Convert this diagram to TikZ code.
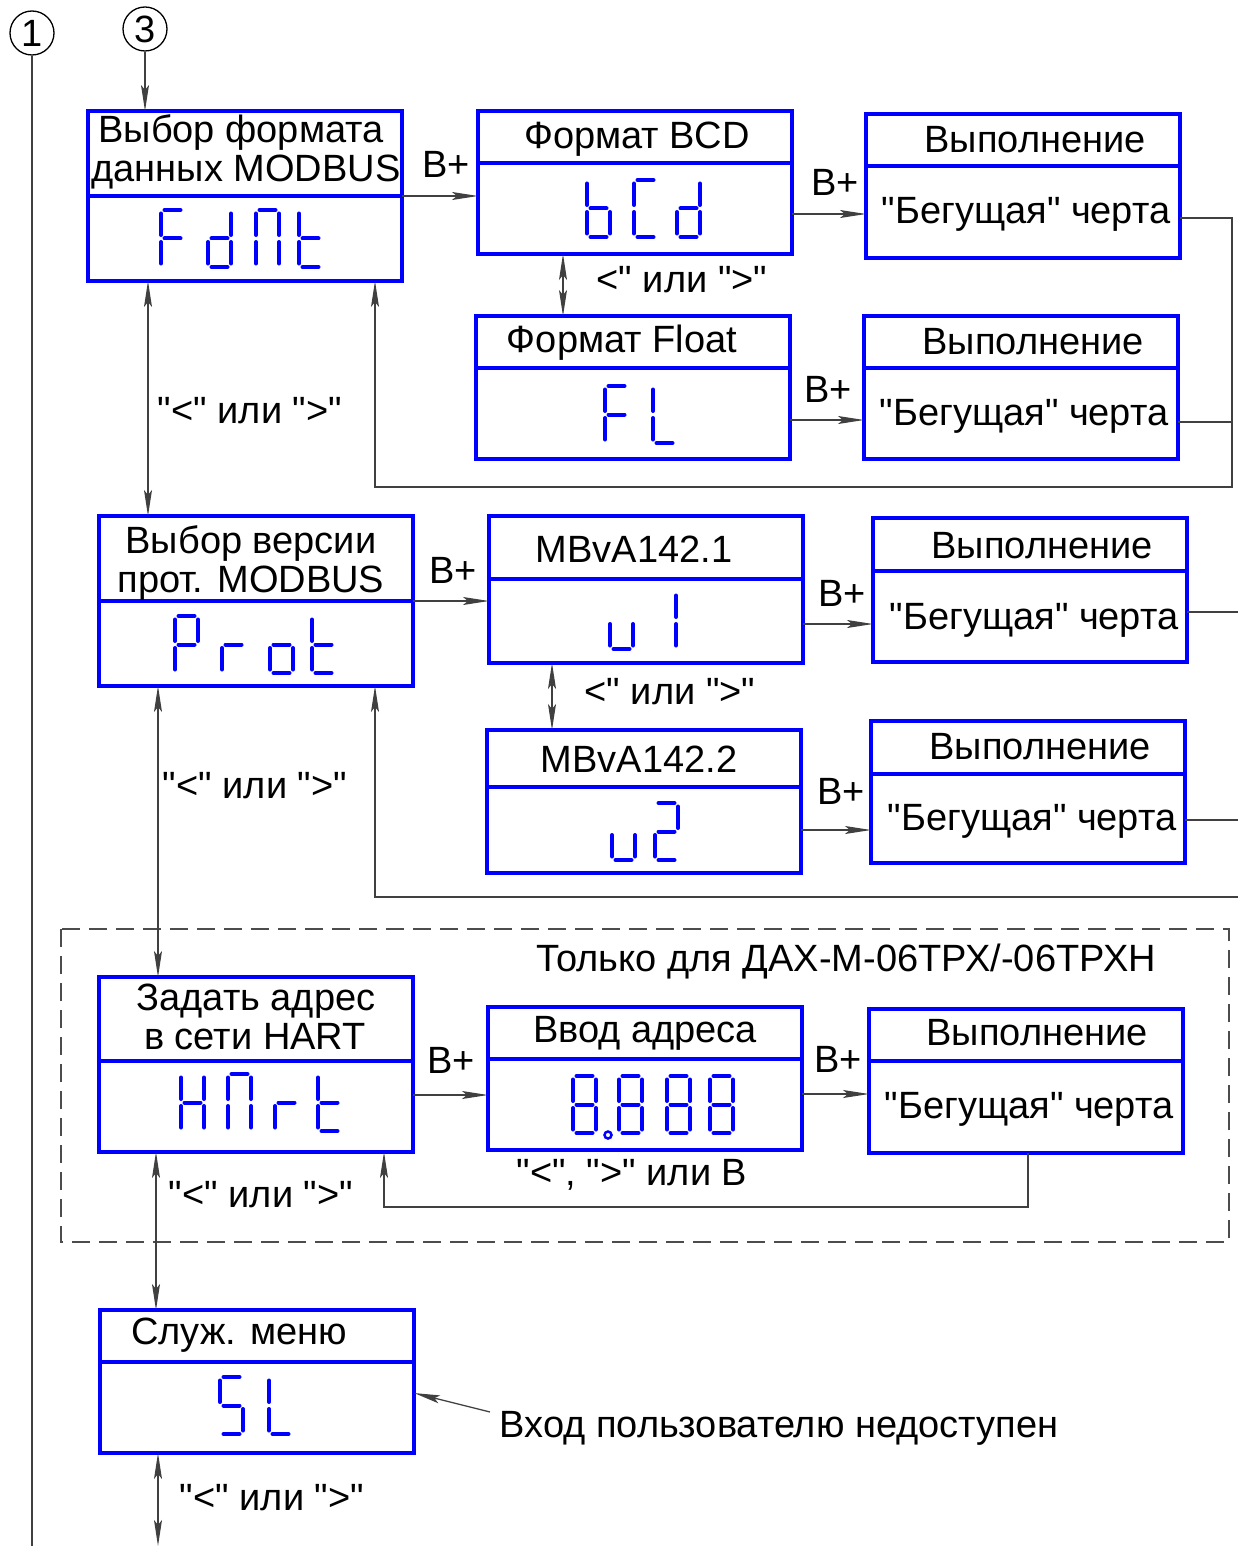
\documentclass[tikz,border=0pt]{standalone}
\usepackage{fontspec}
\setmainfont{Liberation Sans}
\newfontfamily\labelfont{Liberation Sans}
\usetikzlibrary{positioning, arrows.meta}
\definecolor{lcdblue}{RGB}{0,0,255}
\tikzset{
    menubox/.style={draw=lcdblue, line width=3.2pt, rectangle, inner sep=0pt, outer sep=0pt, minimum width=314pt},
    lcdseg/.style={lcdblue, line width=4pt, line cap=round},
    txt/.style={font=\labelfont\fontsize{38}{40}\selectfont, anchor=base, inner sep=0pt},
    conn/.style={black!75, line width=1.3pt},
    flow/.style={conn, -{Stealth[length=26pt, width=8pt, inset=5pt]}},
    dblarrow/.style={conn, {Stealth[length=26pt, width=8pt, inset=5pt]}-{Stealth[length=26pt, width=8pt, inset=5pt]}},
    zone/.style={draw=black!70, line width=1.2pt, dash pattern=on 18pt off 9pt},
    refmark/.style={circle, draw, line width=1.3pt, minimum size=44pt, inner sep=0pt, font=\labelfont\fontsize{38}{40}\selectfont}
}
% one seven-segment digit: top-left corner, list of lit segments
\newcommand{\lcddigit}[3]{%
  \begin{scope}[shift={(#1,#2)}]
    \coordinate (a1) at (3.5,0);    \coordinate (a2) at (19.5,0);
    \coordinate (b1) at (23,3.5);   \coordinate (b2) at (23,25);
    \coordinate (c1) at (23,32);    \coordinate (c2) at (23,53.5);
    \coordinate (d1) at (3.5,57);   \coordinate (d2) at (19.5,57);
    \coordinate (e1) at (0,32);     \coordinate (e2) at (0,53.5);
    \coordinate (f1) at (0,3.5);    \coordinate (f2) at (0,25);
    \coordinate (g1) at (3.5,28.5); \coordinate (g2) at (19.5,28.5);
    \foreach \s in {#3} \draw[lcdseg] (\s1) -- (\s2);
  \end{scope}}

\begin{document}
\begin{tikzpicture}[x=1pt, y=-1pt]
\useasboundingbox (0,0) rectangle (1238,1546);

% entry marks
\node[refmark] (mark1) at (32,33) {1};
\node[refmark] (mark3) at (145,29) {3};

% data format of MODBUS
\node[menubox, minimum height=85pt, anchor=north west] (fdatT) at (88,111) {};
\node[menubox, minimum height=85pt, below=0pt of fdatT] (fdatD) {};
\node[txt] (fdatL1) at (241,143) {Выбор формата};
\node[txt] (fdatL2) at (246,182) {данных MODBUS};
\lcddigit{161}{210}{a,e,f,g}
\lcddigit{208}{210}{b,c,d,e,g}
\lcddigit{256}{210}{a,b,c,e,f}
\lcddigit{299}{210}{d,e,f,g}

\node[menubox, minimum height=52pt, anchor=north west] (bcdT) at (478,111) {};
\node[menubox, minimum height=91pt, below=0pt of bcdT] (bcdD) {};
\node[txt] (bcdL) at (637,149) {Формат BCD};
\lcddigit{587}{180}{c,d,e,f,g}
\lcddigit{634}{180}{a,d,e,f}
\lcddigit{677}{180}{b,c,d,e,g}

\node[menubox, minimum height=52pt, anchor=north west] (fltT) at (476,316) {};
\node[menubox, minimum height=91pt, below=0pt of fltT] (fltD) {};
\node[txt] (fltL) at (622,352) {Формат Float};
\lcddigit{605}{386}{a,e,f,g}
\lcddigit{653}{386}{d,e,f}

\node[menubox, minimum height=52pt, anchor=north west] (runaT) at (866,114) {};
\node[menubox, minimum height=92pt, below=0pt of runaT] (runaD) {};
\node[txt] (runaL) at (1035,153) {Выполнение};
\node[txt] (runaB) at (1026,224) {"Бегущая" черта};

\node[menubox, minimum height=52pt, anchor=north west] (runbT) at (864,316) {};
\node[menubox, minimum height=91pt, below=0pt of runbT] (runbD) {};
\node[txt] (runbL) at (1033,354) {Выполнение};
\node[txt] (runbB) at (1024,425) {"Бегущая" черта};

\draw[flow] (fdatT.south east) -- (bcdD.west |- fdatT.south east);
\node[txt] (bplusA) at (446,178) {В+};
\draw[flow] (bcdD.east |- 0,214) -- (runaD.west |- 0,214);
\node[txt] (bplusB) at (835,196) {В+};
\draw[flow] (fltD.east |- 0,420) -- (runbD.west |- 0,420);
\node[txt] (bplusC) at (828,402) {В+};
\draw[dblarrow] (bcdD.south -| 563,0) -- (fltT.north -| 563,0);
\node[txt] (chooseA) at (682,292) {<" или ">"};

\coordinate (fbA) at (1232,487);
\draw[flow] (runaD.east |- 0,218) -| (fbA) -| (fdatD.south -| 375,0);
\draw[conn] (runbD.east |- 0,422) -- (fbA |- 0,422);

% protocol version
\node[menubox, minimum height=85pt, anchor=north west] (protT) at (99,516) {};
\node[menubox, minimum height=85pt, below=0pt of protT] (protD) {};
\node[txt] (protL1) at (251,553) {Выбор версии};
\node[txt] (protL2) at (251,592) {прот. MODBUS};
\lcddigit{175}{616}{a,b,e,f,g}
\lcddigit{222}{616}{e,g}
\lcddigit{270}{616}{c,d,e,g}
\lcddigit{312}{616}{d,e,f,g}

\draw[dblarrow] (fdatD.south -| 148,0) -- (protT.north -| 148,0);
\node[txt] (chooseB) at (250,423) {"<" или ">"};

\node[menubox, minimum height=63pt, anchor=north west] (veraT) at (489,516) {};
\node[menubox, minimum height=84pt, below=0pt of veraT] (veraD) {};
\node[txt] (veraL) at (634,562) {MBvA142.1};
\lcddigit{610}{592}{c,d,e}
\lcddigit{653}{592}{b,c}

\node[menubox, minimum height=57pt, anchor=north west] (verbT) at (487,730) {};
\node[menubox, minimum height=86pt, below=0pt of verbT] (verbD) {};
\node[txt] (verbL) at (639,772) {MBvA142.2};
\lcddigit{612}{803}{c,d,e}
\lcddigit{655}{803}{a,b,d,e,g}

\node[menubox, minimum height=53pt, anchor=north west] (runcT) at (873,518) {};
\node[menubox, minimum height=91pt, below=0pt of runcT] (runcD) {};
\node[txt] (runcL) at (1042,558) {Выполнение};
\node[txt] (runcB) at (1034,629) {"Бегущая" черта};

\node[menubox, minimum height=53pt, anchor=north west] (rundT) at (871,721) {};
\node[menubox, minimum height=89pt, below=0pt of rundT] (rundD) {};
\node[txt] (rundL) at (1040,759) {Выполнение};
\node[txt] (rundB) at (1032,830) {"Бегущая" черта};

\draw[flow] (protT.south east) -- (veraD.west |- protT.south east);
\node[txt] (bplusD) at (453,583) {В+};
\draw[flow] (veraD.east |- 0,624) -- (runcD.west |- 0,624);
\node[txt] (bplusE) at (842,606) {В+};
\draw[flow] (verbD.east |- 0,830) -- (rundD.west |- 0,830);
\node[txt] (bplusF) at (841,804) {В+};
\draw[dblarrow] (veraD.south -| 552,0) -- (verbT.north -| 552,0);
\node[txt] (chooseC) at (670,704) {<" или ">"};

\coordinate (rimA) at (1238,612);
\coordinate (rimB) at (1238,820);
\coordinate (rimC) at (1238,897);
\draw[conn] (runcD.east |- rimA) -- (rimA);
\draw[conn] (rundD.east |- rimB) -- (rimB);
\draw[flow] (rimC) -| (protD.south -| 375,0);

% HART only
\draw[zone] (61,929) rectangle (1229,1242);
\node[txt] (zoneL) at (846,971) {Только для ДАХ-М-06ТРХ/-06ТРХН};

\node[menubox, minimum height=84pt, anchor=north west] (hartT) at (99,977) {};
\node[menubox, minimum height=91pt, below=0pt of hartT] (hartD) {};
\node[txt] (hartL1) at (256,1010) {Задать адрес};
\node[txt] (hartL2) at (255,1049) {в сети HART};
\lcddigit{181}{1074}{b,c,e,f,g}
\lcddigit{228}{1074}{a,b,c,e,f}
\lcddigit{275}{1074}{e,g}
\lcddigit{318}{1074}{d,e,f,g}

\draw[dblarrow] (protD.south -| 158,0) -- (hartT.north -| 158,0);
\node[txt] (chooseD) at (255,798) {"<" или ">"};

\node[menubox, minimum height=52pt, anchor=north west] (addrT) at (488,1007) {};
\node[menubox, minimum height=91pt, below=0pt of addrT] (addrD) {};
\node[txt] (addrL) at (645,1042) {Ввод адреса};
\foreach \x in {573,619,667,710} {\lcddigit{\x}{1076}{a,b,c,d,e,f,g}}
\draw[lcdblue, line width=2.5pt] (608,1135) circle[radius=3.5pt];

\node[menubox, minimum height=52pt, anchor=north west] (runeT) at (869,1009) {};
\node[menubox, minimum height=92pt, below=0pt of runeT] (runeD) {};
\node[txt] (runeL) at (1037,1045) {Выполнение};
\node[txt] (runeB) at (1029,1118) {"Бегущая" черта};

\draw[flow] (hartD.east |- 0,1095) -- (addrD.west |- 0,1095);
\node[txt] (bplusG) at (451,1073) {В+};
\draw[flow] (addrD.east |- 0,1094) -- (runeD.west |- 0,1094);
\node[txt] (bplusH) at (838,1072) {В+};

\coordinate (fbH) at (1028,1207);
\draw[flow] (runeD.south -| fbH) -- (fbH) -| (hartD.south -| 384,0);
\node[txt] (chooseE) at (632,1185) {"<", ">" или В};
\node[txt] (chooseF) at (261,1207) {"<" или ">"};

% service menu
\node[menubox, minimum height=52pt, anchor=north west] (slT) at (100,1310) {};
\node[menubox, minimum height=91pt, below=0pt of slT] (slD) {};
\node[txt] (slL) at (239,1344) {Служ. меню};
\lcddigit{220}{1377}{a,c,d,f,g}
\lcddigit{269}{1377}{d,e,f}

\draw[dblarrow] (hartD.south -| 156,0) -- (slT.north -| 156,0);
\node[txt] (note) at (779,1437) {Вход пользователю недоступен};
\draw[flow] (490,1412) -- (slD.east |- 0,1393);

\coordinate (downend) at (158,1546);
\draw[dblarrow] (slD.south -| downend) -- (downend);
\node[txt] (chooseG) at (272,1510) {"<" или ">"};

% exit to mark 1 and entry from mark 3
\draw[conn] (mark1.south) -- (mark1.south |- downend);
\draw[flow] (mark3.south) -- (fdatT.north -| mark3.south);
\end{tikzpicture}
\end{document}
